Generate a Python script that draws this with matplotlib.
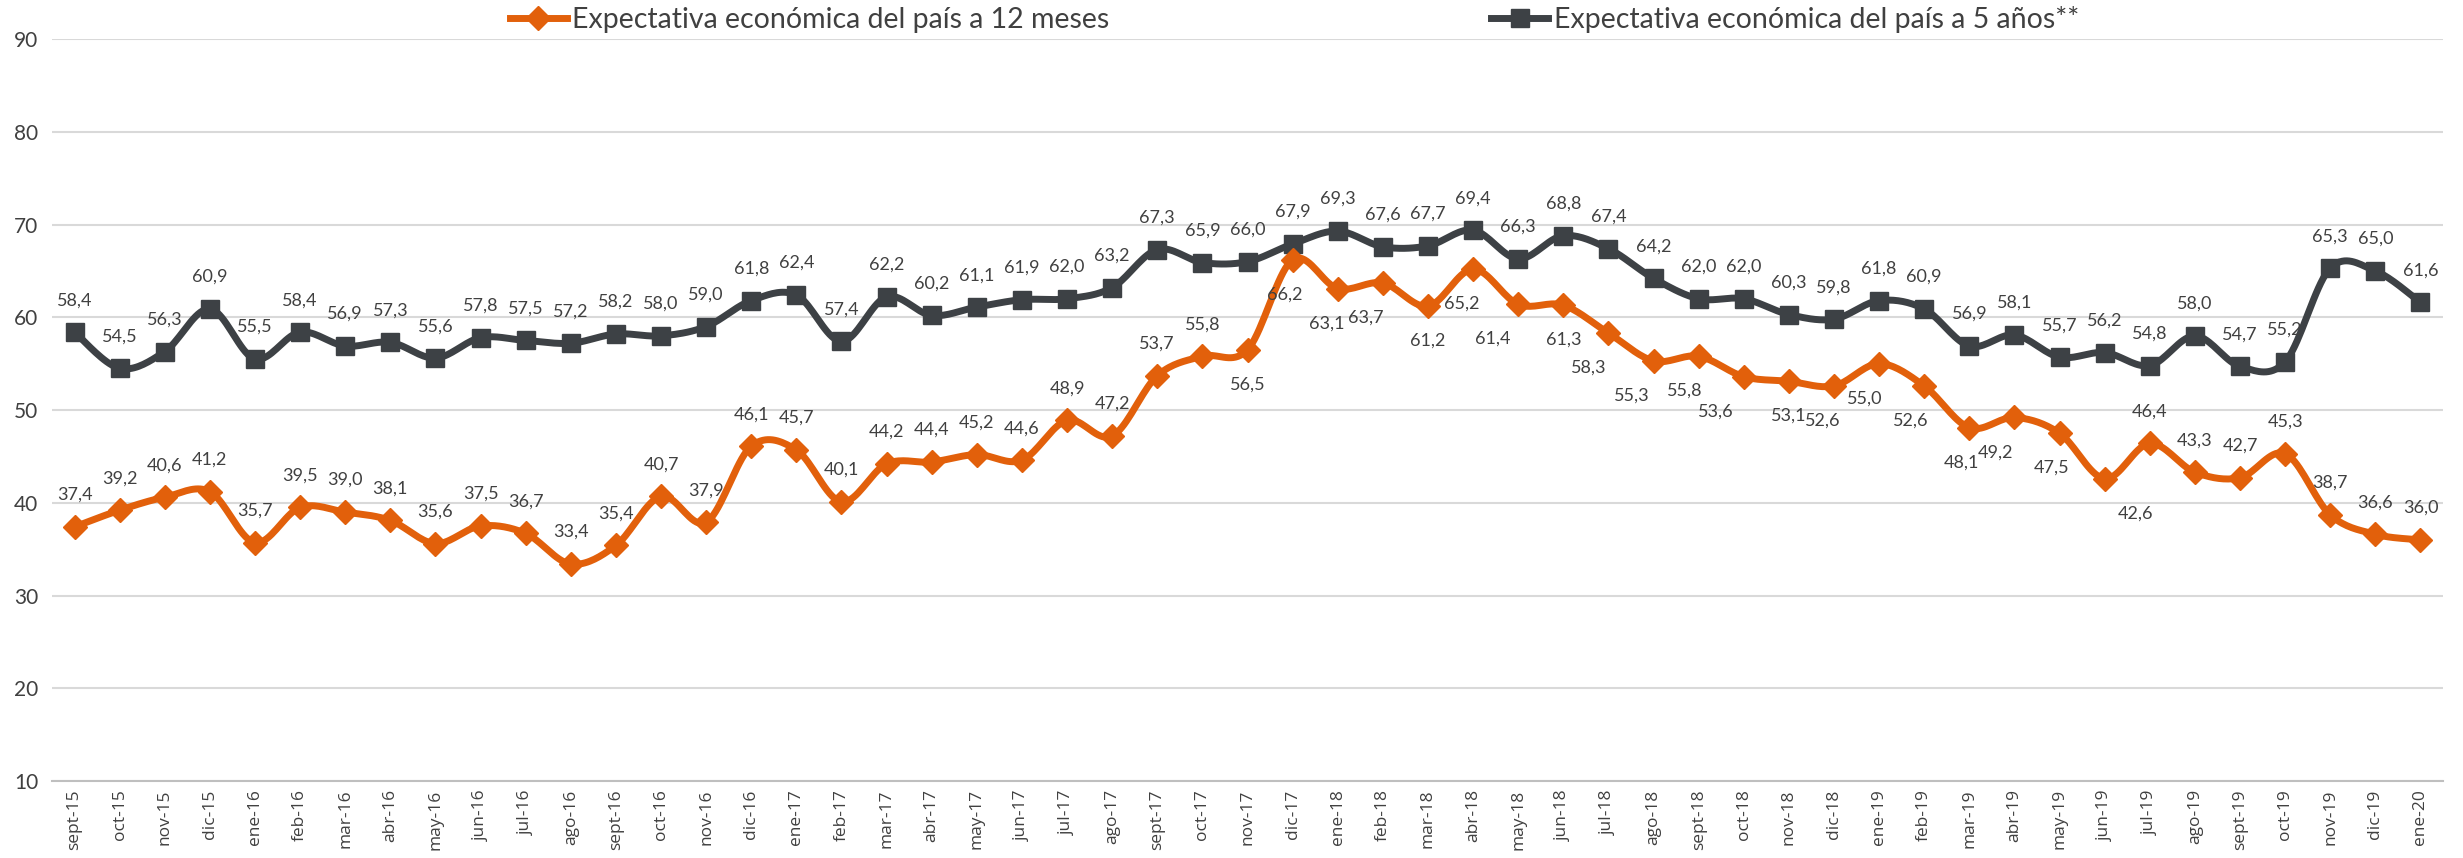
import numpy as np
import matplotlib
matplotlib.use("Agg")
import matplotlib.pyplot as plt
from matplotlib.lines import Line2D

plt.rcParams['font.family'] = ['Lato', 'DejaVu Sans']

meses = ['sept-15', 'oct-15', 'nov-15', 'dic-15',
         'ene-16', 'feb-16', 'mar-16', 'abr-16', 'may-16', 'jun-16', 'jul-16', 'ago-16', 'sept-16', 'oct-16', 'nov-16', 'dic-16',
         'ene-17', 'feb-17', 'mar-17', 'abr-17', 'may-17', 'jun-17', 'jul-17', 'ago-17', 'sept-17', 'oct-17', 'nov-17', 'dic-17',
         'ene-18', 'feb-18', 'mar-18', 'abr-18', 'may-18', 'jun-18', 'jul-18', 'ago-18', 'sept-18', 'oct-18', 'nov-18', 'dic-18',
         'ene-19', 'feb-19', 'mar-19', 'abr-19', 'may-19', 'jun-19', 'jul-19', 'ago-19', 'sept-19', 'oct-19', 'nov-19', 'dic-19',
         'ene-20']

exp_12m = [37.4, 39.2, 40.6, 41.2,
           35.7, 39.5, 39.0, 38.1, 35.6, 37.5, 36.7, 33.4, 35.4, 40.7, 37.9, 46.1,
           45.7, 40.1, 44.2, 44.4, 45.2, 44.6, 48.9, 47.2, 53.7, 55.8, 56.5, 66.2,
           63.1, 63.7, 61.2, 65.2, 61.4, 61.3, 58.3, 55.3, 55.8, 53.6, 53.1, 52.6,
           55.0, 52.6, 48.1, 49.2, 47.5, 42.6, 46.4, 43.3, 42.7, 45.3, 38.7, 36.6,
           36.0]

exp_5a = [58.4, 54.5, 56.3, 60.9,
          55.5, 58.4, 56.9, 57.3, 55.6, 57.8, 57.5, 57.2, 58.2, 58.0, 59.0, 61.8,
          62.4, 57.4, 62.2, 60.2, 61.1, 61.9, 62.0, 63.2, 67.3, 65.9, 66.0, 67.9,
          69.3, 67.6, 67.7, 69.4, 66.3, 68.8, 67.4, 64.2, 62.0, 62.0, 60.3, 59.8,
          61.8, 60.9, 56.9, 58.1, 55.7, 56.2, 54.8, 58.0, 54.7, 55.2, 65.3, 65.0,
          61.6]

# label placement for the orange series: 'a' above, 'b' below
pos_12m = ['a'] * 26 + ['b'] * 20 + ['a'] * 7
dx_12m = [0] * 53
for i, d in {27: -6, 28: -8, 29: -12, 31: -8, 32: -18, 34: -14, 35: -16, 36: -10,
             37: -20, 39: -8, 40: -10, 41: -10, 42: -6, 43: -14, 44: -6, 45: 22}.items():
    dx_12m[i] = d

naranja = '#E2600B'
gris = '#3D4145'
texto = '#404040'


def excel_smooth(x, y, n=20):
    # bezier smoothing like Excel's "smoothed line"
    x = np.asarray(x, float)
    y = np.asarray(y, float)
    P = np.column_stack([x, y])
    out = []
    for i in range(len(P) - 1):
        p0 = P[i - 1] if i > 0 else P[i]
        p1 = P[i]
        p2 = P[i + 1]
        p3 = P[i + 2] if i + 2 < len(P) else P[i + 1]
        c1 = p1 + (p2 - p0) / 6.0
        c2 = p2 - (p3 - p1) / 6.0
        t = np.linspace(0, 1, n)[:, None]
        seg = (1 - t) ** 3 * p1 + 3 * (1 - t) ** 2 * t * c1 + 3 * (1 - t) * t ** 2 * c2 + t ** 3 * p2
        out.append(seg if i == 0 else seg[1:])
    s = np.vstack(out)
    return s[:, 0], s[:, 1]


fig = plt.figure(figsize=(24.63, 8.58), dpi=100)
ax = fig.add_axes([0.0211, 0.0897, 0.9708, 0.8648])

x = np.arange(len(meses))

sx, sy = excel_smooth(x, exp_5a)
ax.plot(sx, sy, color=gris, lw=5, zorder=3, solid_capstyle='round')
ax.plot(x, exp_5a, ls='none', marker='s', ms=13, color=gris, zorder=4)

sx, sy = excel_smooth(x, exp_12m)
ax.plot(sx, sy, color=naranja, lw=5, zorder=5, solid_capstyle='round')
ax.plot(x, exp_12m, ls='none', marker='D', ms=12, color=naranja, zorder=6)

for i, v in enumerate(exp_5a):
    ax.annotate(f'{v:.1f}'.replace('.', ','), (i, v), xytext=(0, 23), textcoords='offset points',
                ha='center', va='center', fontsize=13, color=texto, zorder=7)

for i, v in enumerate(exp_12m):
    off = 23 if pos_12m[i] == 'a' else -25
    ax.annotate(f'{v:.1f}'.replace('.', ','), (i, v), xytext=(dx_12m[i], off), textcoords='offset points',
                ha='center', va='center', fontsize=13, color=texto, zorder=7)

ax.set_xlim(-0.5, len(meses) - 0.5)
ax.set_ylim(10, 90)
ax.set_yticks(range(10, 91, 10))
ax.set_xticks(x)
ax.set_xticklabels(meses, rotation=90, fontsize=12.5, color=texto, family=['Open Sans', 'DejaVu Sans'])
ax.tick_params(axis='y', length=0, pad=10, labelsize=15, labelcolor=texto)
ax.tick_params(axis='x', length=0, pad=6)
ax.grid(axis='y', color='#D9D9D9', lw=1.5)
ax.set_axisbelow(True)
for s in ['top', 'right', 'left']:
    ax.spines[s].set_visible(False)
ax.spines['bottom'].set_color('#BFBFBF')
ax.spines['bottom'].set_linewidth(1.5)

handles = [Line2D([], [], color=naranja, lw=5, marker='D', ms=12),
           Line2D([], [], color=gris, lw=5, marker='s', ms=13)]
fig.legend(handles, ['Expectativa económica del país a 12 meses', 'Expectativa económica del país a 5 años**'],
           loc='center', bbox_to_anchor=(0.5255, 0.977), ncol=2, frameon=False, fontsize=20.5,
           handlelength=2.0, handletextpad=0.2, columnspacing=13.4, labelcolor=texto)

fig.savefig('out.png', dpi=100)
